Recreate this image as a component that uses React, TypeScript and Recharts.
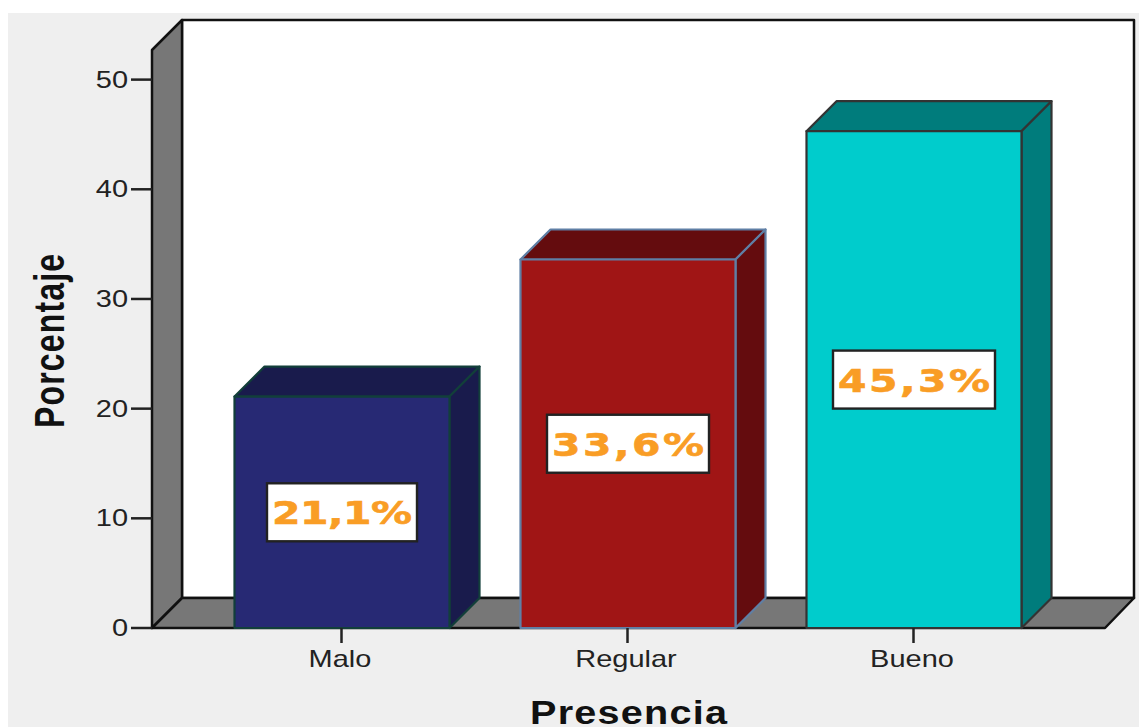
import React from "react";
import { BarChart, Bar, XAxis, YAxis, ReferenceArea, LabelList, Label } from "recharts";

const categories = ["Malo", "Regular", "Bueno"];
const values = [21.1, 33.6, 45.3];
const labels = ["21,1%", "33,6%", "45,3%"];
const yTicks = [0, 10, 20, 30, 40, 50];
const axisTop = 52.7;
const yTitle = "Porcentaje";
const xTitle = "Presencia";

const data = categories.map((name, i) => ({ name, value: values[i], label: labels[i] }));

const frontFills = ["#272974", "#A01515", "#00CCCC"];
const sideFills = ["#191B4C", "#640C0E", "#007C7C"];
const edgeColors = ["#123F3A", "#5F7FA5", "#333333"];

const DEPTH = 30;
const PAD_LEFT = 46.5;
const PAD_RIGHT = 48.5;
const WALL = "#777777";
const STRETCH = 1.26;
const TICK_FONT = "'Liberation Sans', Arial, sans-serif";

function Walls(props: any) {
  const { y, height } = props;
  const x = props.x - PAD_LEFT;
  const width = props.width + PAD_LEFT + PAD_RIGHT;
  const r = x + width;
  const b = y + height;
  const line = { stroke: "#111", strokeWidth: 2.5, strokeLinejoin: "round" as const };
  return (
    <g>
      <rect x={x + DEPTH} y={y - DEPTH} width={width - 1} height={height} fill="#fff" {...line} />
      <polygon points={`${x},${y} ${x + DEPTH},${y - DEPTH} ${x + DEPTH},${b - DEPTH} ${x},${b}`} fill={WALL} {...line} />
      <polygon points={`${x},${b} ${x + DEPTH},${b - DEPTH} ${r + DEPTH - 1},${b - DEPTH} ${r},${b}`} fill={WALL} {...line} />
    </g>
  );
}

function Bar3D(props: any) {
  const { x, y, width, height, index } = props;
  const r = x + width;
  const b = y + height;
  const edge = { stroke: edgeColors[index], strokeWidth: 2.2, strokeLinejoin: "round" as const };
  return (
    <g>
      <polygon points={`${x},${y} ${x + DEPTH},${y - DEPTH} ${r + DEPTH},${y - DEPTH} ${r},${y}`} fill={sideFills[index]} {...edge} />
      <polygon points={`${r},${y} ${r + DEPTH},${y - DEPTH} ${r + DEPTH},${b - DEPTH} ${r},${b}`} fill={sideFills[index]} {...edge} />
      <rect x={x} y={y} width={width} height={height} fill={frontFills[index]} {...edge} />
    </g>
  );
}

function BoxLabel(props: any) {
  const box = props.viewBox || props;
  const x = props.x ?? box.x;
  const y = props.y ?? box.y;
  const width = props.width ?? box.width;
  const height = props.height ?? box.height;
  const text = String(props.value);
  const ones = text.split("1").length - 1;
  const boxW = 162 - 6 * ones;
  const cx = x + width / 2;
  const cy = y + height / 2;
  const sx = 1.28;
  return (
    <g>
      <rect x={cx - boxW / 2} y={cy - 29} width={boxW} height={58} fill="#fff" stroke="#222" strokeWidth={2.4} />
      <text
        transform={`translate(${cx},${cy + 12}) scale(${sx},1)`}
        textAnchor="middle"
        fontFamily="'DejaVu Sans', Verdana, sans-serif"
        fontWeight="bold"
        fontSize={32}
        fill="#F99D25"
        stroke="#F99D25"
        strokeWidth={0.6}
        textLength={(boxW - 10) / sx}
        lengthAdjust="spacing"
      >
        {text}
      </text>
    </g>
  );
}

function YTick(props: any) {
  const { x, y, payload } = props;
  return (
    <text
      transform={`translate(${x - 1},${y + 8}) scale(${STRETCH},1)`}
      textAnchor="end"
      fontFamily={TICK_FONT}
      fontSize={23}
      fill="#222"
    >
      {payload.value}
    </text>
  );
}

function XTick(props: any) {
  const { x, y, payload } = props;
  return (
    <text
      transform={`translate(${x - 1.5},${y + 22}) scale(${STRETCH},1)`}
      textAnchor="middle"
      fontFamily={TICK_FONT}
      fontSize={23}
      fill="#222"
    >
      {payload.value}
    </text>
  );
}

function YTitle(props: any) {
  const { viewBox } = props;
  const cy = viewBox.y + viewBox.height / 2;
  return (
    <text
      transform={`translate(56,${cy + 2}) rotate(-90) scale(1,1.35)`}
      textAnchor="middle"
      fontFamily={TICK_FONT}
      fontWeight="bold"
      fontSize={32}
      fill="#111"
      textLength={174}
      lengthAdjust="spacing"
    >
      {yTitle}
    </text>
  );
}

function XTitle(props: any) {
  const { viewBox } = props;
  const cx = viewBox.x + viewBox.width / 2;
  const sx = 1.2;
  return (
    <text
      transform={`translate(${cx},711) scale(${sx},1)`}
      textAnchor="middle"
      fontFamily={TICK_FONT}
      fontWeight="bold"
      fontSize={33}
      fill="#111"
      textLength={197 / sx}
      lengthAdjust="spacing"
    >
      {xTitle}
    </text>
  );
}

export default function App() {
  return (
    <div style={{ position: "absolute", left: 8, top: 13, width: 1131, height: 714, background: "#EFEFEF", overflow: "hidden" }}>
      <BarChart
        width={1131}
        height={714}
        data={data}
        margin={{ top: 37, right: 34, bottom: 0, left: 84 }}
        barSize={215}
      >
        <XAxis
          dataKey="name"
          height={99}
          padding={{ left: PAD_LEFT, right: PAD_RIGHT }}
          axisLine={false}
          tickLine={{ stroke: "#222", strokeWidth: 2.5 }}
          tickSize={15}
          tick={<XTick />}
          interval={0}
        >
          <Label content={<XTitle />} />
        </XAxis>
        <YAxis
          width={60}
          domain={[0, axisTop]}
          ticks={yTicks}
          axisLine={false}
          tickLine={{ stroke: "#222", strokeWidth: 2.5 }}
          tickSize={21}
          tick={<YTick />}
          interval={0}
        >
          <Label content={<YTitle />} />
        </YAxis>
        <ReferenceArea y1={0} y2={axisTop} ifOverflow="visible" shape={<Walls />} />
        <Bar dataKey="value" isAnimationActive={false} shape={<Bar3D />}>
          <LabelList dataKey="label" content={<BoxLabel />} />
        </Bar>
      </BarChart>
    </div>
  );
}
